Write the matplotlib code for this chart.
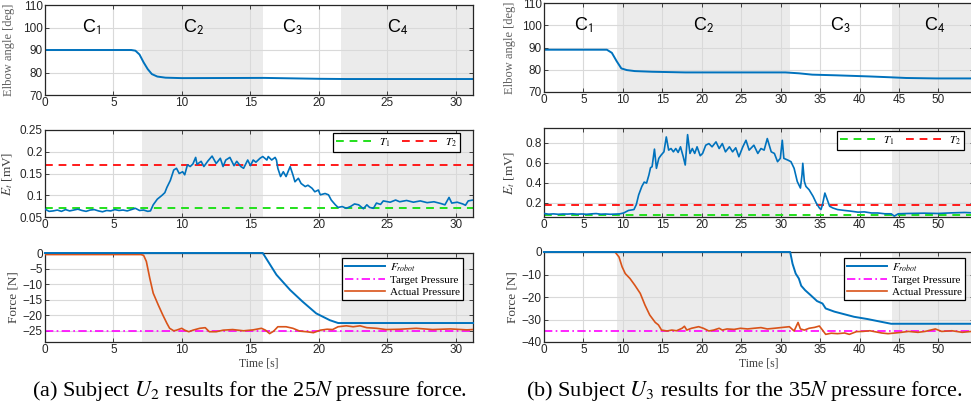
import numpy as np
import matplotlib
matplotlib.use("Agg")
import matplotlib.pyplot as plt
from matplotlib.ticker import FormatStrFormatter

plt.rcParams['mathtext.fontset'] = 'stix'
plt.rcParams['font.family'] = ['Liberation Sans', 'DejaVu Sans']

# ---------------- Data: subject U2 (left) ----------------
u2_phase_labels = ["C$_{\\mathsf{1}}$", "C$_{\\mathsf{2}}$", "C$_{\\mathsf{3}}$", "C$_{\\mathsf{4}}$"]
u2_phase_label_t = [2.7, 10.1, 17.3, 25.0]
u2_shade = [(7.1, 15.9), (21.6, 31.25)]
u2_xmax = 31.25

u2_angle_t = [0, 6.3, 6.6, 6.9, 7.2, 7.5, 7.8, 8.2, 8.8, 10, 16, 18, 20, 22, 31.25]
u2_angle = [90, 90, 89.7, 88, 84.5, 81.5, 79.3, 78.2, 77.7, 77.5, 77.6, 77.4, 77.2, 77.1, 77.1]

u2_emg_t = [0, 0.3, 0.6, 0.9, 1.2, 1.5, 1.8, 2.1, 2.4, 2.7, 3.0, 3.3, 3.6, 3.9, 4.2, 4.5, 4.8,
            5.1, 5.4, 5.7, 6.0, 6.3, 6.6, 6.9, 7.2, 7.5, 7.7, 7.9, 8.2, 8.55, 8.75, 8.9, 9.15,
            9.4, 9.6, 9.8, 10.05, 10.2, 10.4, 10.6, 10.8, 11.0, 11.1, 11.4, 11.6, 11.9, 12.2,
            12.5, 12.8, 13.0, 13.2, 13.5, 13.8, 14.0, 14.3, 14.5, 14.8, 15.0, 15.2, 15.4, 15.7,
            15.9, 16.2, 16.3, 16.55, 16.8, 16.9, 17.0, 17.2, 17.4, 17.6, 17.9, 18.1, 18.25, 18.5,
            18.7, 19.0, 19.2, 19.5, 19.7, 19.96, 20.1, 20.45, 20.7, 20.9, 21.2, 21.4, 21.7, 22.0,
            22.3, 22.6, 22.9, 23.25, 23.5, 23.7, 23.98, 24.2, 24.5, 24.7, 25.2, 25.6, 25.9, 26.4,
            26.9, 27.4, 27.9, 28.4, 28.9, 29.2, 29.5, 29.7, 30.1, 30.5, 30.7, 30.9, 31.25]
u2_emg = [0.068, 0.063, 0.064, 0.066, 0.063, 0.067, 0.064, 0.066, 0.068, 0.065, 0.063, 0.066,
          0.067, 0.064, 0.062, 0.065, 0.064, 0.067, 0.065, 0.066, 0.064, 0.067, 0.070, 0.065,
          0.066, 0.063, 0.064, 0.078, 0.091, 0.100, 0.106, 0.118, 0.134, 0.158, 0.162, 0.150,
          0.154, 0.147, 0.170, 0.166, 0.172, 0.187, 0.171, 0.178, 0.166, 0.179, 0.190, 0.173,
          0.185, 0.166, 0.181, 0.187, 0.168, 0.178, 0.166, 0.162, 0.181, 0.168, 0.181, 0.176,
          0.185, 0.189, 0.181, 0.189, 0.181, 0.187, 0.181, 0.162, 0.143, 0.154, 0.143, 0.166,
          0.147, 0.131, 0.139, 0.127, 0.120, 0.123, 0.116, 0.108, 0.112, 0.101, 0.104, 0.101,
          0.089, 0.078, 0.072, 0.074, 0.070, 0.074, 0.080, 0.078, 0.069, 0.078, 0.072, 0.070,
          0.082, 0.079, 0.087, 0.084, 0.089, 0.085, 0.088, 0.084, 0.087, 0.083, 0.085, 0.081,
          0.078, 0.095, 0.082, 0.084, 0.080, 0.077, 0.087, 0.089]
u2_T1 = 0.07
u2_T2 = 0.17

u2_frobot_t = [0, 15.9, 16.9, 17.9, 18.8, 19.8, 20.8, 21.4, 31.25]
u2_frobot = [0, 0, -7.0, -11.9, -15.6, -19.4, -21.6, -22.5, -22.5]
u2_target = -25
u2_actual_t = [0, 7.0, 7.2, 7.4, 7.65, 7.9, 8.27, 8.6, 8.9, 9.1, 9.4, 9.6, 9.98, 10.2, 10.5,
               10.8, 11.3, 11.7, 12.0, 12.5, 13.0, 13.7, 14.5, 15.2, 15.8, 16.1, 16.4, 16.7,
               17.0, 17.6, 18.1, 18.6, 19.1, 19.6, 20.1, 20.6, 21.0, 21.4, 22.0, 22.5, 23.0,
               23.5, 24.2, 24.9, 25.9, 27.1, 28.3, 29.6, 30.8, 31.25]
u2_actual = [-0.5, -0.5, -0.75, -2.7, -8.1, -12.9, -16.7, -19.9, -22.6, -24.2, -25.0, -24.8,
             -24.2, -24.8, -25.3, -24.8, -24.2, -24.0, -25.3, -25.3, -24.8, -24.6, -25.0,
             -24.7, -24.2, -24.8, -25.9, -25.1, -23.7, -23.7, -24.2, -25.1, -25.3, -25.6,
             -24.8, -24.5, -24.6, -23.7, -23.4, -23.7, -23.4, -24.0, -24.2, -24.6, -24.5,
             -24.2, -24.6, -24.4, -24.7, -24.6]

# ---------------- Data: subject U3 (right) ----------------
u3_phase_labels = u2_phase_labels
u3_phase_label_t = [3.8, 18.9, 36.2, 48.1]
u3_shade = [(9.3, 31.2), (44.1, 54.5)]
u3_xmax = 54.5

u3_angle_t = [0, 7.97, 8.6, 9.2, 9.8, 10.5, 11.5, 13.7, 17.9, 30.6, 32.3, 34.0, 37.0, 41.2,
              44.0, 45.9, 49.7, 54.5]
u3_angle = [89, 89, 87.6, 83.9, 80.6, 79.85, 79.4, 79.1, 78.8, 78.8, 78.4, 77.8, 77.5, 77.0,
            76.6, 76.3, 76.1, 76.1]

u3_emg_t = [0, 0.6, 1.2, 1.8, 2.4, 3.0, 3.6, 4.2, 4.8, 5.4, 6.0, 6.6, 7.2, 7.8, 8.4, 9.0,
            9.6, 10.1, 10.7, 11.4, 11.7, 12.0, 12.4, 12.7, 13.0, 13.3, 13.5, 13.7, 14.0,
            14.25, 14.55, 14.85, 15.2, 15.5, 15.8, 16.1, 16.4, 16.7, 17.0, 17.3, 17.65, 17.9,
            18.2, 18.5, 18.8, 19.1, 19.4, 19.8, 20.1, 20.5, 20.9, 21.3, 21.8, 22.2, 22.6, 23.0,
            23.5, 23.9, 24.3, 24.7, 25.2, 25.6, 26.0, 26.6, 27.1, 27.5, 27.9, 28.3, 28.8, 29.2,
            29.6, 29.95, 30.2, 30.4, 30.9, 31.3, 31.7, 32.1, 32.5, 32.7, 32.8, 33.0, 33.2, 33.6,
            34.1, 34.5, 34.9, 35.1, 35.3, 35.6, 35.9, 36.2, 36.6, 37.2, 38.1, 38.9, 39.8, 40.6,
            41.5, 42.3, 43.2, 44.0, 44.4, 44.9, 46.1, 48.2, 49.9, 51.6, 53.3, 54.5]
u3_emg = [0.095, 0.088, 0.091, 0.087, 0.090, 0.089, 0.092, 0.088, 0.090, 0.087, 0.091, 0.094,
          0.088, 0.090, 0.087, 0.089, 0.091, 0.100, 0.125, 0.134, 0.184, 0.280, 0.364, 0.407,
          0.397, 0.479, 0.550, 0.560, 0.735, 0.544, 0.643, 0.676, 0.708, 0.856, 0.725, 0.741,
          0.708, 0.741, 0.702, 0.758, 0.659, 0.577, 0.879, 0.692, 0.741, 0.692, 0.758, 0.669,
          0.692, 0.774, 0.790, 0.758, 0.807, 0.741, 0.790, 0.708, 0.758, 0.708, 0.748, 0.659,
          0.758, 0.823, 0.725, 0.774, 0.692, 0.741, 0.725, 0.840, 0.708, 0.692, 0.610, 0.643,
          0.823, 0.643, 0.626, 0.610, 0.544, 0.413, 0.348, 0.479, 0.594, 0.413, 0.364, 0.331,
          0.266, 0.200, 0.150, 0.134, 0.184, 0.298, 0.233, 0.167, 0.150, 0.134, 0.125, 0.118,
          0.108, 0.111, 0.100, 0.100, 0.092, 0.092, 0.069, 0.092, 0.095, 0.098, 0.095, 0.101,
          0.105, 0.101]
u3_T1 = 0.08
u3_T2 = 0.18

u3_frobot_t = [0, 31.2, 31.5, 31.9, 32.3, 32.6, 33.1, 33.8, 34.6, 35.3, 35.7, 36.8, 38.1,
               39.3, 41.0, 42.7, 44.0, 54.5]
u3_frobot = [0, 0, -5.2, -9.6, -11.8, -15.0, -17.0, -19.2, -21.8, -22.9, -25.1, -26.5, -27.7,
             -28.8, -29.8, -31.0, -31.9, -31.9]
u3_target = -35
u3_actual_t = [0, 9.0, 9.5, 9.9, 10.3, 10.9, 11.5, 12.2, 12.8, 13.4, 14.1, 14.5, 14.9, 15.6,
               16.2, 16.8, 17.5, 17.8, 18.1, 18.7, 19.6, 20.2, 20.9, 21.5, 22.2, 22.6, 23.2,
               24.1, 24.9, 25.8, 26.6, 27.5, 28.3, 29.2, 30.0, 31.1, 31.7, 32.2, 32.5, 33.0,
               33.6, 34.3, 34.9, 35.3, 35.7, 36.4, 37.2, 38.1, 38.7, 39.6, 40.4, 41.3, 41.9,
               42.8, 43.6, 44.5, 45.3, 46.2, 47.4, 48.3, 49.6, 50.4, 51.7, 53.0, 54.5]
u3_actual = [0, 0, -2.2, -6.6, -9.6, -11.8, -14.7, -18.4, -23.6, -28.0, -31.3, -32.4, -34.7,
             -35.1, -34.7, -35.0, -33.9, -33.0, -34.7, -33.9, -33.2, -33.9, -35.1, -34.7,
             -33.9, -34.7, -34.2, -34.4, -33.9, -34.2, -33.9, -33.6, -34.2, -33.9, -33.6,
             -33.2, -35.1, -31.3, -34.2, -34.7, -33.9, -33.5, -32.9, -34.7, -36.6, -36.1,
             -36.3, -36.0, -36.6, -35.4, -35.3, -35.0, -35.4, -36.0, -36.3, -36.0, -35.7,
             -35.3, -35.7, -35.3, -34.2, -35.3, -35.0, -35.7, -35.2]

captions = [r"(a) Subject $U_2$ results for the 25$N$ pressure force.",
            r"(b) Subject $U_3$ results for the 35$N$ pressure force."]

# ---------------- Styling ----------------
W, H = 971, 412
BLUE = '#0072BD'
ORANGE = '#D95319'
SHADE = '#ebebeb'
TXT = '#262626'

fig = plt.figure(figsize=(W / 100, H / 100), dpi=100)


def add_ax(x0, x1, y0, y1):
    return fig.add_axes([x0 / W, 1 - y1 / H, (x1 - x0) / W, (y1 - y0) / H])


def style(ax, xmax, shade, xticks):
    ax.set_xlim(0, xmax)
    for a, b in shade:
        ax.axvspan(a, b, color=SHADE, lw=0, zorder=0)
    ax.set_axisbelow(True)
    ax.grid(True, color='#d9d9d9', lw=0.8)
    ax.set_xticks(xticks)
    ax.tick_params(direction='in', top=True, right=True, length=3, width=0.6,
                   labelsize=8.5, labelcolor=TXT, colors=TXT, pad=1.5)
    for s in ax.spines.values():
        s.set_color(TXT)
        s.set_linewidth(0.9)


def ylab(ax, text, px, x0, x1, color='#404040', size=9.5):
    ax.set_ylabel(text, family=['Liberation Serif'], fontsize=size, color=color)
    ax.yaxis.set_label_coords((px - x0) / (x1 - x0), 0.5)


LEG_FONT = {'family': 'Liberation Serif', 'size': 8}

panels = [
    dict(x0=45, x1=473, rows=[(5, 95), (130, 217), (253, 342)], xmax=u2_xmax, shade=u2_shade,
         xticks=np.arange(0, 31, 5), at=u2_angle_t, a=u2_angle, et=u2_emg_t, e=u2_emg,
         T1=u2_T1, T2=u2_T2, elim=(0.05, 0.25), eticks=[0.05, 0.1, 0.15, 0.2, 0.25],
         ft=u2_frobot_t, f=u2_frobot, target=u2_target, act_t=u2_actual_t, act=u2_actual,
         flim=(-28.6, 0), fticks=[-25, -20, -15, -10, -5, 0], lt=u2_phase_label_t,
         labels=u2_phase_labels, ylx=[15, 15, 19], leg1=(0.97, 0.966), leg2=(0.977, 0.944),
         cap_x=250),
    dict(x0=544, x1=974, rows=[(3, 92), (128, 217), (252, 342)], xmax=u3_xmax, shade=u3_shade,
         xticks=np.arange(0, 51, 5), at=u3_angle_t, a=u3_angle, et=u3_emg_t, e=u3_emg,
         T1=u3_T1, T2=u3_T2, elim=(0.06, 0.945), eticks=[0.2, 0.4, 0.6, 0.8],
         ft=u3_frobot_t, f=u3_frobot, target=u3_target, act_t=u3_actual_t, act=u3_actual,
         flim=(-40, 0), fticks=[-40, -30, -20, -10, 0], lt=u3_phase_label_t,
         labels=u3_phase_labels, ylx=[516, 517, 518], leg1=(0.977, 0.966), leg2=(0.979, 0.933),
         cap_x=744),
]

for i, p in enumerate(panels):
    x0, x1 = p['x0'], p['x1']
    # Elbow angle
    ax = add_ax(x0, x1, *p['rows'][0])
    style(ax, p['xmax'], p['shade'], p['xticks'])
    ax.plot(p['at'], p['a'], color=BLUE, lw=1.4)
    ax.set_ylim(70, 110)
    ax.set_yticks([70, 80, 90, 100, 110])
    for t, s in zip(p['lt'], p['labels']):
        ax.text(t, 100, s, fontsize=13, ha='left', va='center', color='black',
                family=['Liberation Sans'])
    ylab(ax, 'Elbow angle [deg]', p['ylx'][0], x0, x1, color='#606060', size=9)

    # EMG
    ax = add_ax(x0, x1, *p['rows'][1])
    style(ax, p['xmax'], p['shade'], p['xticks'])
    ax.plot([0, p['xmax']], [p['T1'], p['T1']], color='#22e01c', ls=(0, (4, 3)), lw=1.4,
            label='$T_1$')
    ax.plot([0, p['xmax']], [p['T2'], p['T2']], color='#ff1a1a', ls=(0, (4, 3)), lw=1.4,
            label='$T_2$')
    ax.plot(p['et'], p['e'], color=BLUE, lw=1.2, zorder=3)
    ax.set_ylim(*p['elim'])
    ax.set_yticks(p['eticks'])
    ax.yaxis.set_major_formatter(FormatStrFormatter('%g'))
    ylab(ax, '$E_t$ [mV]', p['ylx'][1], x0, x1)
    lg = ax.legend(loc='upper right', bbox_to_anchor=p['leg1'], borderaxespad=0, ncol=2,
                   prop=LEG_FONT, fancybox=False, framealpha=1, edgecolor='black',
                   handlelength=3.5, columnspacing=1.0, borderpad=0.3, labelspacing=0.15,
                   handletextpad=0.4)
    lg.get_frame().set_linewidth(0.9)

    # Force
    ax = add_ax(x0, x1, *p['rows'][2])
    style(ax, p['xmax'], p['shade'], p['xticks'])
    ax.plot(p['act_t'], p['act'], color=ORANGE, lw=1.2, zorder=3, label='Actual Pressure')
    ax.plot(p['ft'], p['f'], color=BLUE, lw=1.4, zorder=4, label='$F_{robot}$', clip_on=False)
    ax.plot([0, p['xmax']], [p['target'], p['target']], color='#ff00ff', lw=1.2,
            ls=(0, (5, 2, 1, 2)), zorder=2, label='Target Pressure')
    ax.set_ylim(*p['flim'])
    ax.set_yticks(p['fticks'])
    ylab(ax, 'Force [N]', p['ylx'][2], x0, x1)
    ax.set_xlabel('Time [s]', family=['Liberation Serif'], fontsize=8.5, color='#404040',
                  labelpad=1)
    hs, ls_ = ax.get_legend_handles_labels()
    order = [1, 2, 0]
    lg = ax.legend([hs[k] for k in order], [ls_[k] for k in order], loc='upper right',
                   bbox_to_anchor=p['leg2'], borderaxespad=0, prop=LEG_FONT, fancybox=False,
                   framealpha=1, edgecolor='black', handlelength=3.6, borderpad=0.3,
                   labelspacing=0.15, handletextpad=0.4)
    lg.get_frame().set_linewidth(0.9)

    fig.text(p['cap_x'] / W, 1 - 391 / H, captions[i],
             family=['Liberation Serif'], fontsize=16, ha='center', va='center',
             color='black')

fig.savefig('out.png', dpi=100)
